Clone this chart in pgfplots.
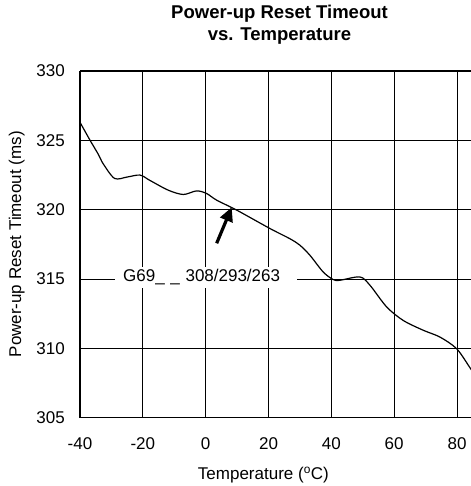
\documentclass[border=0pt]{standalone}
\usepackage{pgfplots}
\pgfplotsset{compat=1.18}
\usepackage{fontspec}
\setmainfont{Liberation Sans}
\usetikzlibrary{arrows.meta}

\begin{document}
\begin{tikzpicture}
\begin{axis}[
  at={(0,0)}, anchor=south west,
  scale only axis, width=392.7pt, height=346.5pt,
  xmin=-40, xmax=85, ymin=305, ymax=330,
  xtick={-40,-20,...,80}, ytick={305,310,...,330},
  axis x line=box, axis y line*=left,
  axis line style={black, line width=1.8pt},
  grid=major,
  major grid style={black, line width=0.7pt},
  tick style={draw=none},
  /pgf/number format/assume math mode=true,
  ticklabel style={font=\fontsize{17}{20}\selectfont},
  yticklabel style={anchor=east, inner sep=0pt, xshift=-15pt},
  xticklabel style={anchor=north, inner sep=0pt, yshift=-20pt},
  title={Power-up Reset Timeout\\vs. Temperature},
  title style={at={(rel axis cs:0.508,1)}, anchor=south, yshift=20pt, inner sep=0pt,
    align=center, font=\bfseries\fontsize{18.5}{22.5}\selectfont},
  xlabel={Temperature (\textsuperscript{o}C)},
  xlabel style={at={(rel axis cs:0.467,0)}, anchor=north, yshift=-49pt, inner sep=0pt,
    font=\fontsize{17}{20}\selectfont},
  ylabel={Power-up Reset Timeout (ms)},
  ylabel style={at={(axis description cs:-0.1403,0.5)}, anchor=south, inner sep=0pt,
    rotate=0, font=\fontsize{17}{20}\selectfont},
]
\addplot[black, line width=1.2pt, smooth, tension=0.5] coordinates {
  (-40,326.3) (-36.8,325.0) (-34.2,324.0) (-32.6,323.3) (-29,322.25)
  (-25,322.35) (-20.9,322.49) (-17.7,322.1) (-11.9,321.4) (-7.1,321.09)
  (-2.9,321.35) (0.3,321.16) (3.5,320.68) (9.9,319.96) (20.5,318.63)
  (26.8,317.9) (30,317.43) (33.2,316.7) (37.4,315.5) (40.6,314.95)
  (42.7,314.9) (49.1,315.14) (52.3,314.54) (57.6,312.98) (62.9,312.0)
  (69.3,311.29) (74.6,310.8) (79.9,309.96) (84.1,308.6) (85,308.3)
};
\node[fill=white, anchor=west, inner sep=0pt, minimum height=21pt,
  text width=182pt, align=left, font=\fontsize{17}{20}\selectfont]
  at (axis cs:-28.86,315.12) {\hspace*{8pt}G69\_ \_ 308/293/263};
\draw[line width=3.2pt, -{Triangle[length=14pt, width=13pt]}]
  (axis cs:3.5,317.57) -- (axis cs:8.3,320.17);
\end{axis}
\pgfresetboundingbox
\path[use as bounding box] (-80pt,-68.5pt) rectangle (390pt,417.5pt);
\end{tikzpicture}
\end{document}
